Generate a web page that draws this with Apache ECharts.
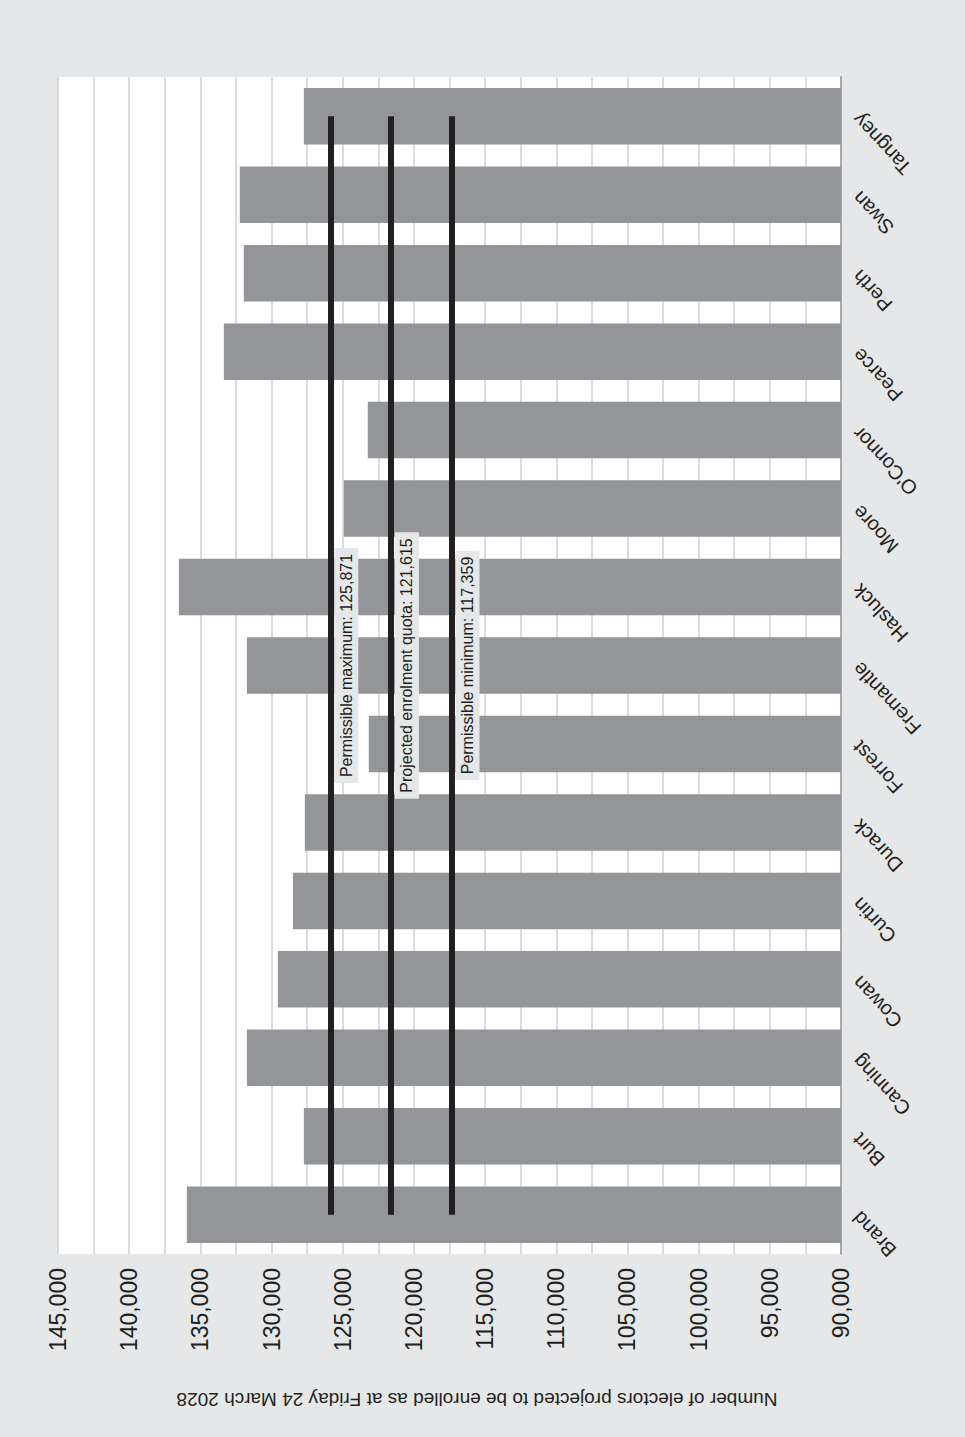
<!DOCTYPE html>
<html>
<head>
<meta charset="utf-8">
<title>Projected enrolment</title>
<script src="https://cdn.jsdelivr.net/npm/echarts@6/dist/echarts.min.js"></script>
<style>
  html, body { margin: 0; padding: 0; background: #e6e7e8; }
  #wrap { position: relative; width: 965px; height: 1437px; overflow: hidden; }
  /* chart is drawn landscape then turned a quarter turn, like the printed page */
  #chart {
    position: absolute; left: 0; top: 0;
    width: 1437px; height: 965px;
    transform-origin: 0 0;
    transform: translate(0, 1437px) rotate(-90deg);
  }
</style>
</head>
<body>
<div id="wrap"><div id="chart"></div></div>
<script>
// divisions
var divisions = ["Brand", "Burt", "Canning", "Cowan", "Curtin", "Durack", "Forrest", "Fremantle",
                 "Hasluck", "Moore", "O'Connor", "Pearce", "Perth", "Swan", "Tangney"];
// projected electors per division
var projected = [135950, 127730, 131730, 129560, 128500, 127660, 123170, 131730,
                 136510, 124920, 123240, 133350, 131950, 132230, 127730];
// tolerance lines
var permissibleMax = 125871;
var enrolmentQuota = 121615;
var permissibleMin = 117359;

var axisTitle = "Number of electors projected to be enrolled as at Friday 24 March 2028";

var fontFam = "'Liberation Sans', Arial, Helvetica, sans-serif";
var ink = "#231f20";

function fmt(v) {
    return v.toString().replace(/\B(?=(\d{3})+(?!\d))/g, ",");
}

// one black line from first to last division
function refLine(label, v) {
    return [
        { name: label + ": " + fmt(v), coord: [divisions[0], v] },
        { coord: [divisions[divisions.length - 1], v] }
    ];
}

var myChart = echarts.init(document.getElementById("chart"), null, { renderer: "svg" });

myChart.setOption({
    animation: false,
    textStyle: { fontFamily: fontFam },
    grid: {
        left: 183, right: 77, top: 58, bottom: 124,
        show: true, backgroundColor: "#ffffff", borderWidth: 0,
        outerBoundsMode: "none"
    },
    xAxis: {
        type: "category",
        data: divisions,
        axisLine: { lineStyle: { color: "#a7a9ac", width: 2 } },
        axisTick: { inside: true, length: 18, lineStyle: { color: "#b9babc", width: 2 } },
        axisLabel: { rotate: 43, fontSize: 20, color: ink, margin: 15, fontFamily: fontFam }
    },
    yAxis: {
        type: "value",
        min: 90000,
        max: 145000,
        interval: 2500,
        axisLine: { show: false },
        axisTick: { show: false },
        splitLine: { lineStyle: { color: "#cfd0d2", width: 1.5 } },
        axisLabel: {
            fontSize: 23, color: ink, margin: 14, fontFamily: fontFam,
            formatter: function (v) { return v % 5000 === 0 ? fmt(v) : ""; }
        }
    },
    graphic: [{
        type: "text",
        x: 38, y: 477,
        rotation: Math.PI / 2,
        style: {
            text: axisTitle,
            fill: ink,
            font: "19px " + fontFam,
            align: "center",
            verticalAlign: "middle"
        }
    }],
    series: [{
        name: "Projected electors",
        type: "bar",
        data: projected,
        barCategoryGap: "28%",
        itemStyle: { color: "#939598" },
        markLine: {
            silent: true,
            symbol: ["none", "none"],
            lineStyle: { color: ink, width: 6, type: "solid" },
            label: {
                show: true,
                position: "insideMiddleBottom",
                formatter: "{b}",
                color: ink,
                fontSize: 16,
                fontFamily: fontFam,
                backgroundColor: "#e6e7e8",
                padding: [4, 6],
                distance: 4
            },
            emphasis: { disabled: true },
            data: [
                refLine("Permissible maximum", permissibleMax),
                refLine("Projected enrolment quota", enrolmentQuota),
                refLine("Permissible minimum", permissibleMin)
            ]
        }
    }]
});
</script>
</body>
</html>
